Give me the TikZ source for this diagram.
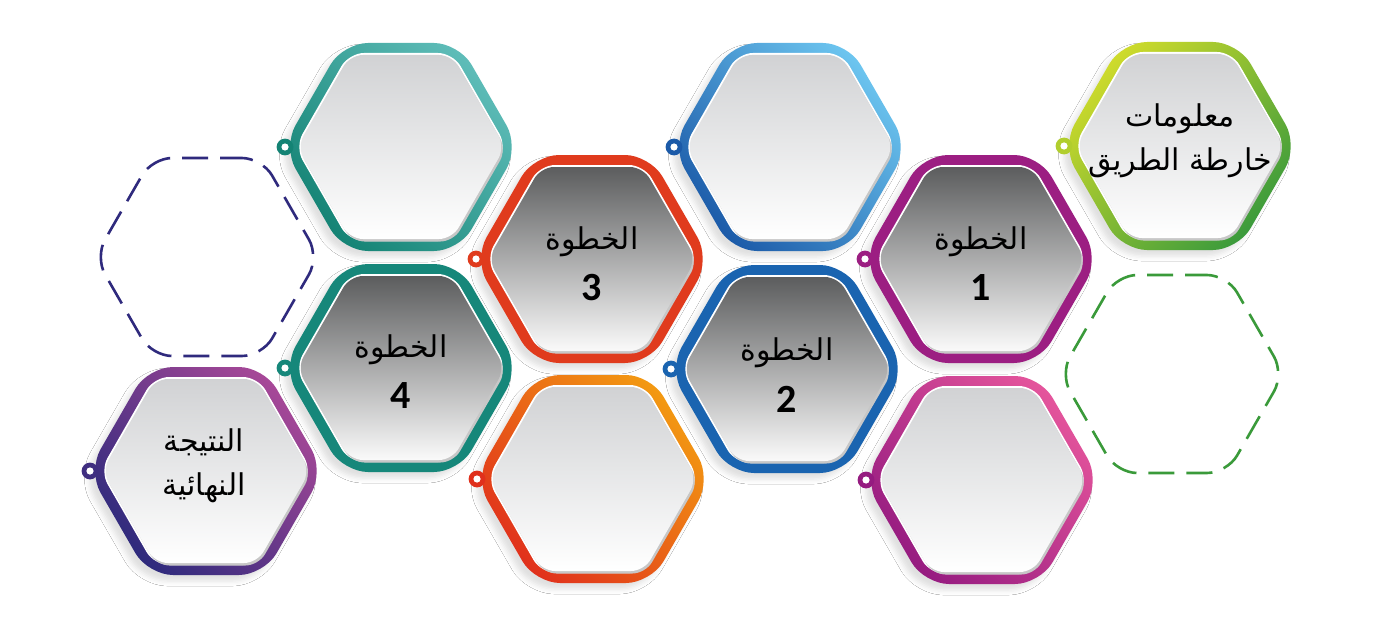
\documentclass[tikz,border=0pt]{standalone}
\usepackage{fontspec}
\newfontfamily\arabicfont[Script=Arabic]{DejaVu Sans}
\newfontfamily\numfont{Carlito}
\TeXXeTstate=1
\usetikzlibrary{shadows.blur}

\definecolor{gYel}{HTML}{CFDB2B}
\definecolor{gGrn}{HTML}{3A9A3C}
\definecolor{pPur}{HTML}{9C1E82}
\definecolor{bLt}{HTML}{6DC6F0}
\definecolor{bDk}{HTML}{1B5AA8}
\definecolor{bMid}{HTML}{1A64B0}
\definecolor{rRed}{HTML}{E03B1D}
\definecolor{tLt}{HTML}{5FBDB9}
\definecolor{tDk}{HTML}{148374}
\definecolor{tMid}{HTML}{16877A}
\definecolor{oOr}{HTML}{F39A12}
\definecolor{oRd}{HTML}{E0301C}
\definecolor{mPk}{HTML}{E5559C}
\definecolor{mPu}{HTML}{951B80}
\definecolor{fLt}{HTML}{A84898}
\definecolor{fNv}{HTML}{2D2A7C}
\definecolor{dNv}{HTML}{2F2A7D}
\definecolor{dGr}{HTML}{3A9A3A}
\definecolor{stepTop}{HTML}{5C5D5E}
\definecolor{stepMid}{HTML}{BDBEBF}
\definecolor{plainTop}{HTML}{D1D2D4}

\def\hexO{(0,-104) -- (58,-104) -- (118,0) -- (58,104) -- (-58,104) -- (-118,0) -- (-58,-104) -- cycle}
\def\hexW{(0,-94) -- (52,-94) -- (106,0) -- (52,94) -- (-52,94) -- (-106,0) -- (-52,-94) -- cycle}
\def\hexF{(0,-92) -- (51,-92) -- (104,0) -- (51,92) -- (-51,92) -- (-104,0) -- (-51,-92) -- cycle}
\def\hexD{(0,-99) -- (55,-99) -- (112,0) -- (55,99) -- (-55,99) -- (-112,0) -- (-55,-99) -- cycle}

\tikzset{
  stepfill/.style={top color=stepTop, middle color=stepMid, bottom color=white!98!black},
  plainfill/.style={top color=plainTop, bottom color=white},
  artext/.style={font=\arabicfont\fontsize{15}{22}\selectfont, align=center, inner sep=0pt},
  numtext/.style={font=\numfont\bfseries\fontsize{20}{22}\selectfont, inner sep=0pt},
  dashhex/.style={line width=1.3pt, dash pattern=on 13pt off 6pt, rounded corners=10pt}
}

% #1 cx, #2 cy, #3 ring paint, #4 dot colour, #5 fill style
\newcommand\hexring[5]{%
\begin{scope}[shift={(#1,#2)}]
  \path[rounded corners=12.5pt, blur shadow={shadow xshift=-3pt, shadow yshift=-3pt, shadow blur radius=2.5pt, shadow opacity=12}] \hexO;
  \path[rounded corners=12.5pt, #3] \hexO;
  \fill[#4] (-116,0) circle (4.2pt);
  \fill[white] (-116,0) circle (1.8pt);
  \fill[white, rounded corners=7.5pt] \hexW;
  \fill[black!22, rounded corners=6.5pt, shift={(1.5,2.5)}] \hexF;
  \path[rounded corners=6.5pt, #5] \hexF;
\end{scope}}

\begin{document}
\begin{tikzpicture}[x=0.5pt, y=-0.5pt]
\path[use as bounding box, fill=white] (0,0) rectangle (1380,642);

% dashed placeholders
\draw[dashhex, dNv, shift={(207,257)}] \hexD;
\draw[dashhex, dGr, shift={(1172,374)}] \hexD;

% rings
\hexring{1180}{146}{top color=gYel, bottom color=gGrn, shading angle=45}{gYel!80!gGrn}{plainfill}
\hexring{981}{259}{fill=pPur}{pPur}{stepfill}
\hexring{790}{147}{top color=bLt, bottom color=bDk, shading angle=-45}{bDk}{plainfill}
\hexring{787}{369}{fill=bMid}{bMid}{stepfill}
\hexring{592}{259}{fill=rRed}{rRed}{stepfill}
\hexring{401}{147}{top color=tLt, bottom color=tDk, shading angle=-45}{tDk}{plainfill}
\hexring{401}{368}{fill=tMid}{tMid}{stepfill}
\hexring{593}{479}{top color=oOr, bottom color=oRd, shading angle=-45}{oRd}{plainfill}
\hexring{982}{480}{top color=mPk, bottom color=mPu, shading angle=-45}{mPu}{plainfill}
\hexring{206}{471}{top color=fLt, bottom color=fNv, shading angle=-45}{fNv!85!fLt}{plainfill}

% texts
\node[artext] (info) at (1180,141) {\beginR معلومات\endR\\\beginR خارطة الطريق\endR};
\node[artext] (s1w) at (981,242) {\beginR الخطوة\endR};
\node[numtext] (s1n) at (981,288) {1};
\node[artext] (s2w) at (787,353) {\beginR الخطوة\endR};
\node[numtext] (s2n) at (787,399) {2};
\node[artext] (s3w) at (592,242) {\beginR الخطوة\endR};
\node[numtext] (s3n) at (592,288) {3};
\node[artext] (s4w) at (401,350) {\beginR الخطوة\endR};
\node[numtext] (s4n) at (401,396) {4};
\node[artext] (final) at (204,466) {\beginR النتيجة\endR\\\beginR النهائية\endR};
\end{tikzpicture}
\end{document}
